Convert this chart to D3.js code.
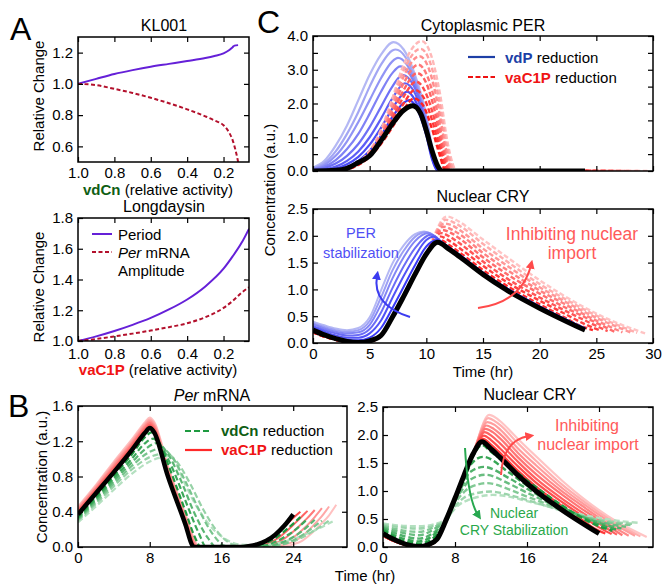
<!DOCTYPE html>
<html>
<head>
<meta charset="utf-8">
<script src="https://cdn.jsdelivr.net/npm/d3@7"></script>
<style>
  body { margin: 0; background: #fff; }
  svg { font-family: "Liberation Sans", Arial, sans-serif; }
  .tick text { font-size: 15px; fill: #000; font-family: "Liberation Sans", Arial, sans-serif; }
  .tick line { stroke: #000; stroke-width: 1.2; }
</style>
</head>
<body>
<div id="chart"></div>
<script>
// ---------- data ----------

// panel A, KL001 (x = vdCn relative activity)
const kl001Period = [[1,1],[0.9,1.032],[0.8,1.063],[0.7,1.088],[0.6,1.11],[0.5,1.128],[0.4,1.146],[0.3,1.165],[0.25,1.178],[0.2,1.195],[0.17,1.215],[0.15,1.235],[0.14,1.245],[0.12,1.248]];
const kl001Amp = [[1,1],[0.9,0.992],[0.8,0.968],[0.7,0.942],[0.6,0.911],[0.5,0.876],[0.4,0.837],[0.3,0.792],[0.25,0.766],[0.2,0.735],[0.17,0.69],[0.15,0.64],[0.135,0.58],[0.125,0.53],[0.118,0.49]];
// panel A, Longdaysin (x = vaC1P relative activity)
const ldPeriod = [[1,1],[0.9,1.03],[0.8,1.065],[0.7,1.105],[0.6,1.15],[0.5,1.205],[0.4,1.27],[0.3,1.355],[0.2,1.47],[0.15,1.55],[0.1,1.64],[0.06,1.73]];
const ldAmp = [[1,1],[0.9,1.013],[0.8,1.03],[0.7,1.048],[0.6,1.068],[0.5,1.09],[0.4,1.115],[0.3,1.155],[0.2,1.215],[0.15,1.26],[0.1,1.315],[0.06,1.35]];
const activityTicks = [1.0, 0.8, 0.6, 0.4, 0.2];

// panel C top, cytoplasmic PER [time, conc]
const perBlack = [[0,0],[2,0.02],[3,0.08],[4,0.25],[5,0.45],[6,0.9],[7,1.4],[8,1.8],[8.8,1.93],[9.5,1.7],[10,1.2],[10.5,0.6],[11,0.15],[11.4,0],[24,0]];
const perVdP = [
  [[0,0],[1,0],[2,0.03],[3,0.12],[4,0.3],[5,0.6],[6,1.05],[7,1.6],[8,2.02],[8.5,2.1],[9,1.95],[10,1.05],[10.5,0.35],[11,0],[24,0]],
  [[0,0.01],[1,0.02],[2,0.07],[3,0.2],[4,0.42],[5,0.78],[6,1.28],[7,1.85],[8,2.3],[8.3,2.35],[9,2.1],[10,1.15],[10.5,0.4],[11,0.02],[11.2,0],[24,0]],
  [[0,0.02],[1,0.05],[2,0.13],[3,0.3],[4,0.58],[5,1.0],[6,1.55],[7,2.15],[8.1,2.6],[9,2.3],[10,1.25],[10.5,0.45],[11,0.03],[11.3,0],[24,0]],
  [[0,0.03],[1,0.09],[2,0.22],[3,0.45],[4,0.8],[5,1.3],[6,1.9],[7,2.5],[7.9,2.85],[9,2.45],[10,1.35],[10.5,0.5],[11,0.05],[11.3,0],[24,0]],
  [[0,0.05],[1,0.13],[2,0.32],[3,0.65],[4,1.1],[5,1.7],[6,2.35],[7,2.9],[7.7,3.1],[9,2.55],[10,1.4],[10.5,0.55],[11,0.08],[11.4,0],[24,0]],
  [[0,0.07],[1,0.18],[2,0.45],[3,0.88],[4,1.45],[5,2.1],[6,2.75],[7,3.25],[7.5,3.35],[9,2.65],[10,1.5],[10.5,0.6],[11,0.1],[11.4,0],[24,0]],
  [[0,0.08],[1,0.23],[2,0.58],[3,1.1],[4,1.75],[5,2.5],[6,3.15],[7,3.57],[7.3,3.6],[9,2.75],[10,1.55],[10.5,0.65],[11,0.12],[11.5,0],[24,0]],
  [[0,0.1],[1,0.3],[2,0.75],[3,1.35],[4,2.1],[5,2.85],[6,3.45],[7.1,3.82],[8,3.6],[9,2.85],[10,1.65],[10.5,0.75],[11,0.2],[11.5,0],[24,0]]
];
const perVaC1P = [
  [[0,0],[3,0.06],[4,0.18],[5,0.42],[6,0.8],[7,1.3],[8,1.82],[8.9,2.15],[9.7,1.95],[10.5,1.25],[11.2,0.45],[11.7,0],[24.5,0]],
  [[0,0],[3,0.06],[4,0.19],[5,0.45],[6,0.86],[7,1.42],[8,2.0],[9,2.4],[9.8,2.15],[10.6,1.4],[11.3,0.5],[11.85,0],[25.2,0]],
  [[0,0],[3,0.06],[4,0.2],[5,0.47],[6,0.92],[7,1.55],[8,2.2],[9.1,2.65],[9.9,2.35],[10.7,1.55],[11.4,0.55],[12,0],[25.9,0]],
  [[0,0],[3,0.07],[4,0.21],[5,0.5],[6,0.98],[7,1.67],[8,2.4],[9.2,2.9],[10,2.6],[10.8,1.7],[11.5,0.6],[12.1,0],[26.6,0]],
  [[0,0],[3,0.07],[4,0.22],[5,0.52],[6,1.04],[7,1.8],[8,2.6],[9.3,3.15],[10.1,2.8],[10.9,1.85],[11.6,0.65],[12.2,0],[27.3,0]],
  [[0,0],[3,0.07],[4,0.23],[5,0.55],[6,1.1],[7,1.92],[8,2.8],[9.4,3.4],[10.2,3.05],[11,2.0],[11.7,0.7],[12.35,0],[28,0]],
  [[0,0],[3,0.08],[4,0.24],[5,0.57],[6,1.16],[7,2.03],[8,2.98],[9.5,3.62],[10.3,3.25],[11.1,2.15],[11.8,0.75],[12.5,0],[28.7,0]],
  [[0,0],[3,0.08],[4,0.25],[5,0.6],[6,1.22],[7,2.15],[8,3.15],[9.6,3.85],[10.4,3.45],[11.2,2.3],[11.9,0.8],[12.7,0],[29.5,0]]
];

// nuclear CRY (panel C bottom and panel B right)
const cryBlack = [[0,0.24],[1,0.15],[2,0.08],[3,0.03],[4,0.01],[5,0.04],[6,0.14],[7,0.48],[8,0.87],[9,1.28],[10,1.66],[11,1.88],[12,1.75],[13,1.6],[15,1.28],[17,1.0],[20,0.65],[22,0.44],[24,0.24]];
const cryPerStab = [
  [[0,0.26],[1,0.17],[2,0.1],[3,0.06],[4,0.05],[5,0.1],[6,0.28],[7,0.65],[8,1.05],[9,1.45],[10,1.8],[10.9,1.92],[12,1.78],[13,1.63],[15,1.31],[17,1.03],[20,0.68],[22,0.47],[24,0.27]],
  [[0,0.29],[1,0.21],[2,0.14],[3,0.1],[4,0.1],[5,0.18],[6,0.42],[7,0.84],[8,1.25],[9,1.62],[10,1.92],[10.6,1.98],[11.5,1.86],[13,1.63],[15,1.31],[17,1.03],[20,0.68],[22,0.47],[24,0.27]],
  [[0,0.32],[1,0.24],[2,0.18],[3,0.14],[4,0.15],[5,0.26],[6,0.57],[7,1.02],[8,1.43],[9,1.77],[10.4,2.02],[11.5,1.86],[13,1.63],[15,1.31],[17,1.03],[20,0.68],[22,0.47],[24,0.27]],
  [[0,0.35],[1,0.27],[2,0.21],[3,0.18],[4,0.2],[5,0.34],[6,0.72],[7,1.2],[8,1.6],[9,1.9],[10.2,2.05],[11.5,1.85],[13,1.63],[15,1.31],[17,1.03],[20,0.68],[22,0.47],[24,0.27]],
  [[0,0.37],[1,0.3],[2,0.24],[3,0.21],[4,0.24],[5,0.41],[6,0.85],[7,1.35],[8,1.72],[9,1.98],[10,2.07],[11.5,1.84],[13,1.63],[15,1.31],[17,1.03],[20,0.68],[22,0.47],[24,0.27]],
  [[0,0.4],[1,0.33],[2,0.27],[3,0.24],[4,0.28],[5,0.48],[6,0.98],[7,1.48],[8,1.82],[9,2.03],[9.8,2.08],[10.5,2.0],[11.5,1.83],[13,1.63],[15,1.31],[17,1.03],[20,0.68],[22,0.47],[24,0.27]]
];
const cryRedRise = [[0,0.2],[1,0.12],[2,0.06],[3,0.02],[4,0.01],[5,0.03],[6,0.13],[7,0.47],[8,0.86],[9,1.27],[10,1.67]];
const cryImportTails = [
  [[10.5,1.82],[11.1,1.93],[12,1.83],[13,1.68],[15,1.36],[17,1.08],[20,0.72],[22,0.5],[23.5,0.33],[24.7,0.24]],
  [[11.2,1.99],[12,1.91],[13,1.76],[15,1.44],[17,1.15],[20,0.79],[22,0.57],[24,0.35],[25.4,0.23]],
  [[11.3,2.05],[12.1,1.98],[13,1.85],[15,1.52],[17,1.22],[20,0.85],[22,0.63],[24,0.42],[26,0.22]],
  [[11.4,2.11],[12.2,2.05],[13,1.94],[15,1.6],[17,1.3],[20,0.92],[22,0.69],[24,0.48],[26.6,0.21]],
  [[11.5,2.17],[12.3,2.11],[13,2.02],[15,1.68],[17,1.38],[20,0.98],[22,0.75],[24.5,0.47],[27.3,0.2]],
  [[11.6,2.23],[12.4,2.18],[13,2.1],[15,1.76],[17,1.46],[20,1.04],[22,0.8],[25,0.47],[28,0.2]],
  [[11.7,2.3],[12.5,2.24],[13,2.18],[15,1.85],[17,1.54],[20,1.1],[22,0.85],[25.5,0.46],[28.6,0.19]],
  [[11.8,2.36],[12.6,2.3],[13,2.25],[15,1.93],[17,1.62],[20,1.17],[22,0.9],[26,0.45],[29.3,0.18]]
];
const cryImport = cryImportTails.map(t => cryRedRise.concat(t));
const cryStab = [
  [[0,0.3],[2,0.12],[4,0.06],[6,0.22],[7,0.45],[8,0.85],[9,1.25],[10,1.62],[11,1.82],[12,1.7],[14,1.45],[16,1.19],[18,0.95],[20,0.73],[22,0.53],[24,0.37],[25.5,0.29]],
  [[0,0.32],[2,0.16],[4,0.1],[6,0.27],[7,0.45],[8,0.85],[9,1.22],[9.8,1.48],[11.1,1.61],[14,1.33],[16,1.1],[18,0.9],[20,0.71],[22,0.54],[24,0.4],[26,0.31]],
  [[0,0.34],[2,0.21],[4,0.15],[6,0.3],[7,0.45],[8,0.84],[9,1.15],[9.6,1.33],[11.2,1.43],[14,1.23],[16,1.04],[18,0.86],[20,0.7],[22,0.55],[24,0.43],[26.5,0.33]],
  [[0,0.36],[2,0.26],[4,0.21],[6,0.35],[7,0.45],[8,0.82],[9,1.07],[9.5,1.18],[11.4,1.29],[14,1.13],[16,0.97],[18,0.82],[20,0.68],[22,0.55],[24,0.45],[27,0.36]],
  [[0,0.38],[2,0.3],[4,0.27],[6,0.38],[7,0.46],[8,0.78],[9,0.98],[9.5,1.05],[11.6,1.14],[14,1.03],[16,0.9],[18,0.78],[20,0.66],[22,0.56],[24,0.47],[27.5,0.39]],
  [[0,0.4],[2,0.35],[4,0.33],[6,0.4],[7,0.47],[8,0.72],[9,0.88],[9.5,0.92],[12,0.99],[14,0.93],[16,0.84],[18,0.74],[20,0.64],[22,0.56],[24,0.49],[26,0.44],[28,0.41]],
  [[0,0.42],[2,0.38],[4,0.37],[6,0.42],[6.5,0.45],[7.5,0.6],[8.5,0.76],[9.5,0.84],[11,0.91],[12.2,0.93],[14,0.9],[16,0.82],[18,0.74],[20,0.66],[22,0.58],[24,0.52],[26,0.47],[28.5,0.43]]
];

// panel B left, Per mRNA
const mrnaBlack = [[0,0.37],[2,0.61],[4,0.85],[6,1.1],[7.5,1.3],[8,1.35],[8.5,1.3],[10,0.81],[12,0.25],[12.8,0.01],[13,0],[18,0],[19,0.01],[20,0.03],[21,0.07],[22,0.14],[23,0.24],[24,0.37]];
const mrnaVaC1P = [
  [[0,0.39],[2,0.63],[4,0.87],[6,1.12],[7.5,1.32],[8,1.37],[8.5,1.32],[10,0.83],[12,0.27],[12.9,0.01],[13.1,0],[18.5,0],[20,0.03],[21,0.07],[22,0.14],[23,0.23],[24,0.33],[24.8,0.4]],
  [[0,0.4],[2,0.645],[4,0.89],[6,1.14],[7.5,1.34],[8,1.39],[8.5,1.34],[10,0.85],[12,0.29],[13,0.01],[13.2,0],[19.2,0],[20.8,0.03],[21.8,0.07],[22.8,0.14],[23.8,0.23],[24.8,0.33],[25.6,0.41]],
  [[0,0.415],[2,0.66],[4,0.91],[6,1.16],[7.5,1.36],[8,1.41],[8.5,1.36],[10,0.87],[12,0.31],[13.1,0.01],[13.3,0],[20,0],[21.6,0.03],[22.6,0.07],[23.6,0.14],[24.6,0.23],[25.6,0.33],[26.4,0.42]],
  [[0,0.43],[2,0.675],[4,0.93],[6,1.18],[7.5,1.38],[8,1.43],[8.5,1.38],[10,0.89],[12,0.33],[13.2,0.01],[13.4,0],[20.8,0],[22.4,0.03],[23.4,0.07],[24.4,0.14],[25.4,0.23],[26.4,0.34],[27.2,0.44]],
  [[0,0.445],[2,0.69],[4,0.95],[6,1.2],[7.5,1.4],[8,1.45],[8.5,1.4],[10,0.91],[12,0.35],[13.3,0.01],[13.5,0],[21.6,0],[23.2,0.03],[24.2,0.07],[25.2,0.14],[26.2,0.24],[27.2,0.35],[28,0.46]],
  [[0,0.46],[2,0.705],[4,0.97],[6,1.22],[7.5,1.42],[8,1.47],[8.5,1.42],[10,0.93],[12,0.37],[13.4,0.01],[13.6,0],[22.4,0],[24,0.03],[25,0.07],[26,0.15],[27,0.25],[28,0.36],[28.8,0.48]]
];
const mrnaVdCn = [
  [[0,0.34],[2,0.57],[4,0.81],[6,1.05],[7.5,1.25],[8.2,1.3],[9,1.2],[10,0.95],[12,0.4],[13,0.12],[13.7,0],[19,0],[20.5,0.03],[22,0.1],[23.5,0.22],[24.8,0.34]],
  [[0,0.33],[2,0.55],[4,0.78],[6,1.0],[7.5,1.18],[8.4,1.23],[9.3,1.13],[10.5,0.9],[12,0.52],[13.5,0.15],[14.3,0],[19.8,0],[21.3,0.03],[22.8,0.1],[24.3,0.2],[25.6,0.32]],
  [[0,0.32],[2,0.53],[4,0.75],[6,0.96],[7.5,1.11],[8.8,1.18],[10,1.06],[11.5,0.75],[13,0.38],[14.5,0.1],[15.4,0],[20.6,0],[22.1,0.03],[23.6,0.09],[25.1,0.19],[26.4,0.31]],
  [[0,0.31],[2,0.51],[4,0.72],[6,0.92],[8,1.08],[9.3,1.12],[10.5,1.02],[12,0.74],[13.5,0.42],[15,0.15],[16.2,0.02],[17,0],[21.2,0],[22.8,0.03],[24.3,0.09],[25.8,0.19],[27.2,0.3]],
  [[0,0.3],[2,0.49],[4,0.69],[6,0.88],[8,1.02],[9.8,1.06],[11,0.97],[12.5,0.72],[14,0.42],[15.5,0.18],[17,0.04],[18,0.01],[21.5,0.01],[23.2,0.04],[24.8,0.1],[26.4,0.19],[28,0.3]],
  [[0,0.28],[2,0.46],[4,0.65],[6,0.83],[8,0.97],[10.3,1.03],[12,0.7],[13,0.5],[14,0.34],[15,0.21],[16,0.12],[17,0.06],[18,0.03],[20,0.02],[22,0.04],[24,0.09],[26,0.17],[28.4,0.29]]
];

// ---------- drawing ----------
const svg = d3.select("#chart").append("svg").attr("width", 666).attr("height", 585);
const defs = svg.append("defs");
let clipCount = 0;

function makePanel(c) {
    let p = {c: c};
    p.x = d3.scaleLinear().domain(c.xDomain).range(c.xRange);
    p.y = d3.scaleLinear().domain(c.yDomain).range(c.yRange);
    p.g = svg.append("g");
    let id = "clip" + (clipCount++);
    defs.append("clipPath").attr("id", id).append("rect")
        .attr("x", c.xRange[0]).attr("y", c.yRange[1])
        .attr("width", c.xRange[1] - c.xRange[0])
        .attr("height", c.yRange[0] - c.yRange[1]);
    p.plot = p.g.append("g").attr("clip-path", "url(#" + id + ")");
    p.line = d3.line().x(d => p.x(d[0])).y(d => p.y(d[1])).curve(d3.curveMonotoneX);
    return p;
}

function finishPanel(p) {
    let c = p.c;
    let x0 = c.xRange[0], x1 = c.xRange[1], yb = c.yRange[0], yt = c.yRange[1];
    p.g.append("g").attr("transform", "translate(0," + yb + ")")
        .call(d3.axisBottom(p.x).tickValues(c.xTicks).tickSize(-5).tickPadding(c.xPad || 5)
            .tickFormat(c.xFmt ? c.xFmt : () => ""));
    p.g.append("g").attr("transform", "translate(0," + yt + ")")
        .call(d3.axisTop(p.x).tickValues(c.xTicks).tickSize(-5).tickFormat(() => ""));
    p.g.append("g").attr("transform", "translate(" + x0 + ",0)")
        .call(d3.axisLeft(p.y).tickValues(c.yTicks).tickSize(-5).tickPadding(5).tickFormat(c.yFmt));
    p.g.append("g").attr("transform", "translate(" + x1 + ",0)")
        .call(d3.axisRight(p.y).tickValues(c.yTicks).tickSize(-5).tickFormat(() => ""));
    p.g.selectAll(".domain").remove();
    p.g.append("rect")
        .attr("x", x0).attr("y", yt).attr("width", x1 - x0).attr("height", yb - yt)
        .attr("fill", "none").attr("stroke", "#000").attr("stroke-width", 1.5);
}

function drawFamily(p, data, dark, light, width, dash) {
    let col = d3.interpolateRgb(dark, light);
    let n = data.length;
    // lightest first so darker curves sit on top
    let order = data.map((d, i) => ({d: d, i: i})).reverse();
    p.plot.selectAll(null).data(order).join("path")
        .attr("d", o => p.line(o.d))
        .attr("fill", "none")
        .attr("stroke", o => col(n > 1 ? o.i / (n - 1) : 0))
        .attr("stroke-width", width)
        .attr("stroke-dasharray", dash || null);
}

function drawLine(p, data, color, width, dash) {
    p.plot.append("path").attr("d", p.line(data))
        .attr("fill", "none").attr("stroke", color)
        .attr("stroke-width", width).attr("stroke-dasharray", dash || null);
}

function text(x, y, str, size, opts) {
    opts = opts || {};
    let t = svg.append("text").attr("x", x).attr("y", y)
        .attr("font-size", size).attr("text-anchor", opts.anchor || "middle")
        .attr("fill", opts.fill || "#000");
    if (opts.rotate) t.attr("transform", "rotate(-90," + x + "," + y + ")");
    if (opts.italic) t.attr("font-style", "italic");
    t.text(str);
    return t;
}

function richText(x, y, parts, size, anchor) {
    let t = svg.append("text").attr("x", x).attr("y", y)
        .attr("font-size", size).attr("text-anchor", anchor || "middle");
    parts.forEach(pt => {
        t.append("tspan").text(pt.t)
            .attr("fill", pt.fill || "#000")
            .attr("font-weight", pt.bold ? "bold" : null)
            .attr("font-style", pt.italic ? "italic" : null);
    });
    return t;
}

function marker(id, color) {
    defs.append("marker").attr("id", id)
        .attr("viewBox", "0 0 10 10").attr("refX", 4).attr("refY", 5)
        .attr("markerWidth", 4.5).attr("markerHeight", 4.5).attr("orient", "auto")
        .append("path").attr("d", "M0,0L10,5L0,10z").attr("fill", color);
}

function arrow(x0, y0, cx, cy, x1, y1, color, id) {
    svg.append("path")
        .attr("d", "M" + x0 + "," + y0 + "Q" + cx + "," + cy + " " + x1 + "," + y1)
        .attr("fill", "none").attr("stroke", color).attr("stroke-width", 2)
        .attr("marker-end", "url(#" + id + ")");
}

const fmt1 = d3.format(".1f");
const fmt0 = d3.format("d");
const purple = "#6520d8", darkRed = "#b3102c";
const greenBold = "#0f5e14", redBold = "#f01414", blueBold = "#1d3fa6";

// ---- A: KL001 ----
let a1 = makePanel({xDomain: [1, 0.06], xRange: [78, 249], yDomain: [0.5, 1.3], yRange: [162, 37],
    xTicks: activityTicks, yTicks: [0.6, 0.8, 1.0, 1.2], xFmt: fmt1, yFmt: fmt1});
drawLine(a1, kl001Period, purple, 2);
drawLine(a1, kl001Amp, darkRed, 2, "4,2.5");
finishPanel(a1);

// ---- A: Longdaysin ----
let a2 = makePanel({xDomain: [1, 0.06], xRange: [78, 249], yDomain: [1.0, 1.8], yRange: [341, 218],
    xTicks: activityTicks, yTicks: [1.0, 1.2, 1.4, 1.6, 1.8], xFmt: fmt1, yFmt: fmt1, xPad: 7});
drawLine(a2, ldPeriod, purple, 2);
drawLine(a2, ldAmp, darkRed, 2, "4,2.5");
finishPanel(a2);

// ---- C: Cytoplasmic PER ----
let c1 = makePanel({xDomain: [0, 30], xRange: [313, 653], yDomain: [0, 4], yRange: [171, 36],
    xTicks: d3.range(0, 31, 5), yTicks: d3.range(0, 4.01, 0.5), xFmt: null,
    yFmt: d => (Math.round(d) === d ? fmt1(d) : "")});
drawFamily(c1, perVdP, "#3a3af7", "#b4b8f4", 2.2);
drawFamily(c1, perVaC1P, "#ff2020", "#ffb8b8", 2.4, "5,2.5");
drawLine(c1, perBlack, "#000", 5);
finishPanel(c1);

// ---- C: Nuclear CRY ----
let c2 = makePanel({xDomain: [0, 30], xRange: [313, 653], yDomain: [0, 2.5], yRange: [343, 209],
    xTicks: d3.range(0, 31, 5), yTicks: d3.range(0, 2.51, 0.5), xFmt: fmt0, yFmt: fmt1});
drawFamily(c2, cryImport, "#ff2a2a", "#ffc4c4", 2.4, "5,2.5");
drawFamily(c2, cryPerStab, "#3a3af7", "#b4b8f4", 2);
drawLine(c2, cryBlack, "#000", 5);
finishPanel(c2);

// ---- B: Per mRNA ----
let b1 = makePanel({xDomain: [0, 30], xRange: [78, 347], yDomain: [0, 1.6], yRange: [547, 406],
    xTicks: [0, 8, 16, 24], yTicks: [0, 0.4, 0.8, 1.2, 1.6], xFmt: fmt0, yFmt: fmt1});
drawFamily(b1, mrnaVaC1P, "#ff4a4a", "#ffc0c0", 2);
drawFamily(b1, mrnaVdCn, "#1e9a40", "#b4e0c0", 2.2, "6,3");
drawLine(b1, mrnaBlack, "#000", 4.5);
finishPanel(b1);

// ---- B: Nuclear CRY ----
let b2 = makePanel({xDomain: [0, 30], xRange: [383, 653], yDomain: [0, 2.5], yRange: [547, 407],
    xTicks: [0, 8, 16, 24], yTicks: d3.range(0, 2.51, 0.5), xFmt: fmt0, yFmt: fmt1});
drawFamily(b2, cryImport, "#ff3a3a", "#ffc4c4", 2.2);
drawFamily(b2, cryStab, "#1e9a40", "#b4e0c0", 2.4, "6,3");
drawLine(b2, cryBlack, "#000", 5);
finishPanel(b2);

// ---- panel letters and titles ----
text(10, 40, "A", 32, {anchor: "start"});
text(257, 33, "C", 32, {anchor: "start"});
text(8, 417, "B", 32, {anchor: "start"});

text(164, 31, "KL001", 16);
text(164, 212, "Longdaysin", 16);
text(483, 31, "Cytoplasmic PER", 16);
text(483, 202, "Nuclear CRY", 16);
richText(212, 401, [{t: "Per", italic: true}, {t: " mRNA"}], 16);
text(530, 400, "Nuclear CRY", 16);

// axis labels
text(44, 96, "Relative Change", 15, {rotate: true});
text(44, 287, "Relative Change", 15, {rotate: true});
richText(158, 195, [{t: "vdCn", bold: true, fill: greenBold}, {t: " (relative activity)"}], 15);
richText(158, 375, [{t: "vaC1P", bold: true, fill: redBold}, {t: " (relative activity)"}], 15);
text(275, 190, "Concentration (a.u.)", 15, {rotate: true});
text(483, 377, "Time (hr)", 15);
text(47, 477, "Concentration (a.u.)", 15, {rotate: true});
text(365, 581, "Time (hr)", 15);

// legend A
svg.append("line").attr("x1", 92).attr("x2", 112).attr("y1", 234).attr("y2", 234)
    .attr("stroke", purple).attr("stroke-width", 2);
svg.append("line").attr("x1", 92).attr("x2", 112).attr("y1", 252).attr("y2", 252)
    .attr("stroke", darkRed).attr("stroke-width", 2).attr("stroke-dasharray", "4,2.5");
text(118, 240, "Period", 15, {anchor: "start"});
richText(118, 258, [{t: "Per", italic: true}, {t: " mRNA"}], 15, "start");
text(118, 276, "Amplitude", 15, {anchor: "start"});

// legend C
svg.append("line").attr("x1", 468).attr("x2", 495).attr("y1", 57).attr("y2", 57)
    .attr("stroke", blueBold).attr("stroke-width", 2.2);
svg.append("line").attr("x1", 468).attr("x2", 495).attr("y1", 77).attr("y2", 77)
    .attr("stroke", "#ee1111").attr("stroke-width", 2.2).attr("stroke-dasharray", "5,2.5");
richText(505, 63, [{t: "vdP", bold: true, fill: blueBold}, {t: " reduction"}], 15, "start");
richText(505, 83, [{t: "vaC1P", bold: true, fill: redBold}, {t: " reduction"}], 15, "start");

// legend B
svg.append("line").attr("x1", 185).attr("x2", 212).attr("y1", 431).attr("y2", 431)
    .attr("stroke", "#1e9a40").attr("stroke-width", 2.2).attr("stroke-dasharray", "6,3");
svg.append("line").attr("x1", 185).attr("x2", 212).attr("y1", 450).attr("y2", 450)
    .attr("stroke", "#ff2a2a").attr("stroke-width", 2.2);
richText(221, 436, [{t: "vdCn", bold: true, fill: greenBold}, {t: " reduction"}], 15, "start");
richText(221, 455, [{t: "vaC1P", bold: true, fill: redBold}, {t: " reduction"}], 15, "start");

// annotations + arrows
marker("headBlue", "#3c3cf0");
marker("headRed", "#ff4a4a");
marker("headGreen", "#28a850");

text(361, 238, "PER", 14.5, {fill: "#4f4ff5"});
text(361, 258, "stabilization", 14.5, {fill: "#4f4ff5"});
arrow(410, 317, 372, 305, 377, 276, "#3c3cf0", "headBlue");

text(572, 240, "Inhibiting nuclear", 17.5, {fill: "#ff5a5a"});
text(572, 259, "import", 17.5, {fill: "#ff5a5a"});
arrow(478, 308, 522, 302, 531, 265, "#ff4a4a", "headRed");

text(587, 431, "Inhibiting", 16, {fill: "#ff5a5a"});
text(588, 450, "nuclear import", 16, {fill: "#ff5a5a"});
arrow(501, 475, 503, 440, 529, 436, "#ff4a4a", "headRed");

text(514, 518, "Nuclear", 14, {fill: "#2aa84a"});
text(514, 535, "CRY Stabilization", 14, {fill: "#2aa84a"});
arrow(465, 448, 468, 500, 478, 515, "#28a850", "headGreen");
</script>
</body>
</html>
